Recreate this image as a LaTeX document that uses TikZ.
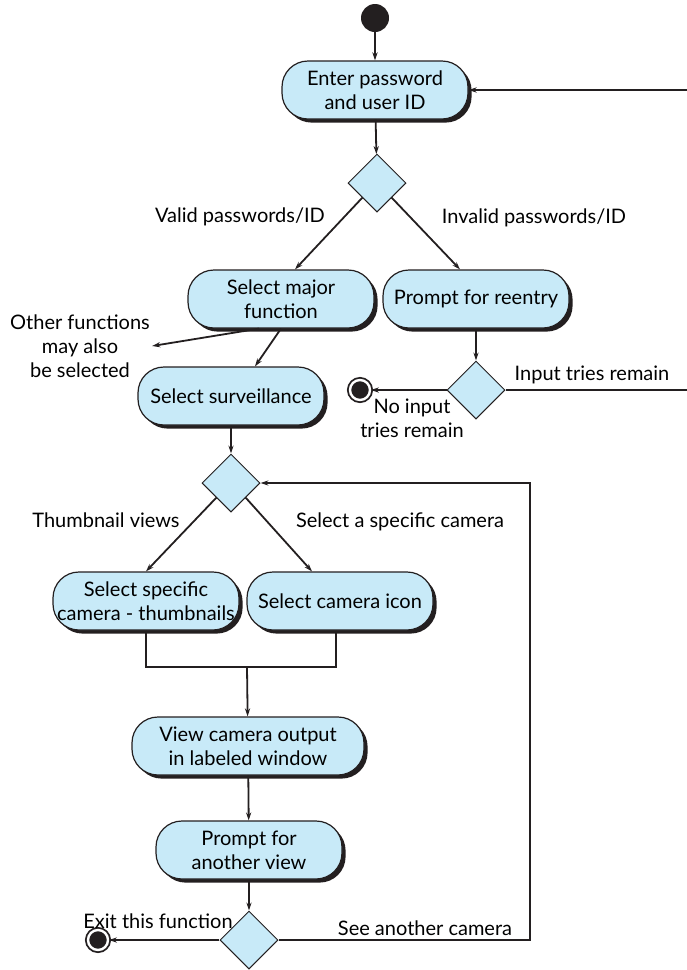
\documentclass[tikz,border=0pt]{standalone}
\usepackage{fontspec}
\setmainfont{Lato}
\usetikzlibrary{arrows.meta,shapes.geometric,shadows}
\definecolor{Ink}{HTML}{231F20}
\definecolor{Sky}{HTML}{C8EAF8}
\tikzset{
  activity/.style={
    rounded corners=13pt, draw=Ink, line width=0.6pt, fill=Sky,
    minimum width=93pt, minimum height=29pt, align=center, inner sep=1pt,
    drop shadow={shadow xshift=1.8pt, shadow yshift=-1.8pt, fill=Ink, opacity=1}
  },
  decision/.style={
    diamond, aspect=1, draw=Ink, line width=0.5pt, fill=Sky,
    minimum size=29pt, inner sep=0pt
  },
  initial/.style={circle, fill=Ink, minimum size=14pt, inner sep=0pt},
  final/.style={
    circle, fill=Ink, draw=Ink, line width=0.9pt, double=white,
    double distance=1.2pt, minimum size=10pt, inner sep=0pt
  },
  guard/.style={align=center, inner sep=1pt},
  flow/.style={-{Stealth[length=4pt,width=2.6pt]}, line width=0.9pt, draw=Ink},
  plain/.style={line width=0.9pt, draw=Ink}
}

\begin{document}
\begin{tikzpicture}[x=0.5pt,y=-0.5pt,font=\fontsize{10}{12}\selectfont]
    \useasboundingbox (0,0) rectangle (686,970);
    % login part
    \node[initial] (start) at (375,18) {};
    \node[activity] (enter) at (375,90) {Enter password\\and user ID};
    \node[decision] (login) at (377,183) {};
    \node[activity] (major) at (281,299) {Select major\\function};
    \node[activity] (reentry) at (476,299) {Prompt for reentry};
    \node[decision] (tries) at (476,390) {};
    \node[final] (noentry) at (360,390) {};
    \node[activity] (surv) at (231,396) {Select surveillance};
    \coordinate (retry) at (700,390);
    % camera part
    \node[decision] (views) at (231,483) {};
    \node[activity] (thumb) at (146,601) {Select specific\\camera - thumbnails};
    \node[activity] (icon) at (340,601) {Select camera icon};
    \coordinate (join) at (247,667);
    \node[activity,minimum width=116pt] (output) at (248,746) {View camera output\\in labeled window};
    \node[activity] (another) at (249,850) {Prompt for\\another view};
    \node[decision] (again) at (249,940) {};
    \node[final] (exit) at (98,940) {};
    \coordinate (back) at (530,483);
    % labels
    \node[guard] (valid) at (240,217) {Valid passwords/ID};
    \node[guard] (invalid) at (534,218) {Invalid passwords/ID};
    \node[guard] (others) at (80,346) {Other functions\\may also\\be selected};
    \node[guard] (remain) at (592,375) {Input tries remain};
    \node[guard] (noremain) at (412,418) {No input\\tries remain};
    \node[guard] (thumbs) at (106,520) {Thumbnail views};
    \node[guard] (specific) at (400,522) {Select a specific camera};
    \node[guard] (exitlbl) at (158,921) {Exit this function};
    \node[guard] (seeanother) at (425,928) {See another camera};
    % connectors
    \draw[flow] (start)--(enter);
    \draw[flow] (enter)--(login);
    \draw[flow] (login.south west)--([xshift=7pt]major.north);
    \draw[flow] (login.south east)--([xshift=-8pt]reentry.north);
    \draw[flow] ([xshift=-11pt]major.south)--(others.east);
    \draw[flow] (major.south)--([xshift=12pt]surv.north);
    \draw[flow] (reentry)--(tries);
    \draw[flow] (tries)--(noentry);
    \draw[flow] (tries.east)--(retry)|-(enter.east);
    \draw[flow] (surv)--(views);
    \draw[flow] (views.south west)--(thumb.north);
    \draw[flow] (views.south east)--([xshift=-14pt]icon.north);
    \draw[plain] (thumb.south)|-(join)-|([xshift=-2pt]icon.south);
    \draw[flow] (join)--(output);
    \draw[flow] (output)--(another);
    \draw[flow] (another)--(again);
    \draw[flow] (again)--(exit);
    \draw[flow] (again.east)-|(back)--(views.east);
  \end{tikzpicture}
\end{document}
